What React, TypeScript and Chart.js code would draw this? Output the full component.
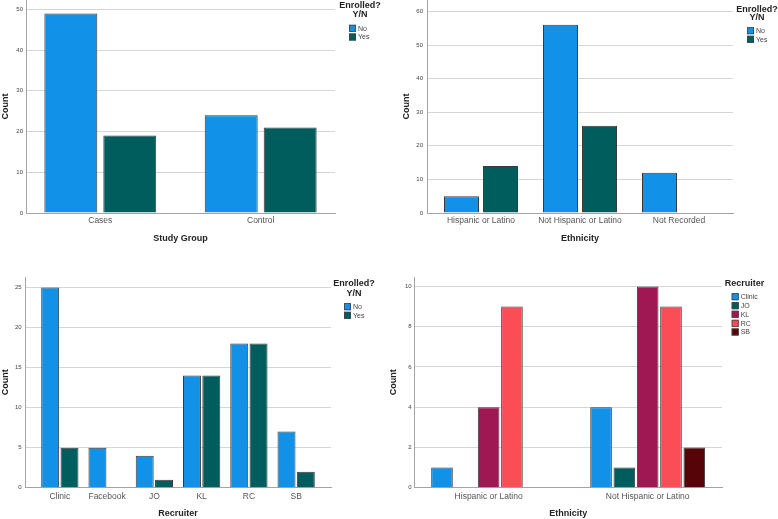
import React, { useEffect, useRef } from "react";
import { Chart, registerables } from "chart.js";

Chart.register(...registerables);

// ---------- data ----------
const studyGroups = ["Cases", "Control"];
const studyNo = [49, 24];
const studyYes = [19, 21];
const studyTicks = [0, 10, 20, 30, 40, 50];

const ethnicityGroups = ["Hispanic or Latino", "Not Hispanic or Latino", "Not Recorded"];
const ethnicityNo = [5, 56, 12];
const ethnicityYes = [14, 26, null];
const ethnicityTicks = [0, 10, 20, 30, 40, 50, 60];

const recruiters = ["Clinic", "Facebook", "JO", "KL", "RC", "SB"];
const recruiterNo = [25, 5, 4, 14, 18, 7];
const recruiterYes = [5, null, 1, 14, 18, 2];
const recruiterTicks = [0, 5, 10, 15, 20, 25];

const ethnicity2Groups = ["Hispanic or Latino", "Not Hispanic or Latino"];
const recClinic = [1, 4];
const recJO = [null, 1];
const recKL = [4, 10];
const recRC = [9, 9];
const recSB = [null, 2];
const ethnicity2Ticks = [0, 2, 4, 6, 8, 10];

// ---------- styles ----------
const BLUE = "#1192e8";
const TEAL = "#005d5d";
const MAGENTA = "#9f1853";
const RED = "#fa4d56";
const DARKRED = "#570408";
const FONT = "'Liberation Sans', Arial, sans-serif";

type LegendCfg = {
  title: string[];
  titleCX: number;
  titleY: number[];
  boxX: number;
  itemY: number[];
};

type PanelCfg = {
  x: number;
  y: number;
  w: number;
  h: number;
  labels: string[];
  series: { label: string; data: (number | null)[]; color: string }[];
  ticks: number[];
  max: number;
  xTitle: string;
  yW: number;
  xH: number;
  padTop: number;
  padRight: number;
  yTickPad: number;
  yTitlePad: number;
  xTickPad: number;
  xTitlePadBottom: number;
  catPct: number;
  barPct: number;
  catInset: number;
  legend: LegendCfg;
};

const legendPlugin = {
  id: "customLegend",
  afterDraw(chart: any, _args: any, opts: any) {
    const cfg: LegendCfg = opts.cfg;
    if (!cfg) return;
    const ctx = chart.ctx;
    ctx.save();
    ctx.fillStyle = "#222";
    ctx.font = `bold 9px ${FONT}`;
    ctx.textAlign = "center";
    ctx.textBaseline = "middle";
    cfg.title.forEach((t, i) => ctx.fillText(t, cfg.titleCX, cfg.titleY[i]));
    ctx.font = `7px ${FONT}`;
    ctx.textAlign = "left";
    chart.data.datasets.forEach((ds: any, i: number) => {
      const y = cfg.itemY[i];
      ctx.fillStyle = ds.backgroundColor;
      ctx.fillRect(cfg.boxX, y - 3.5, 7, 7);
      ctx.strokeStyle = "#444";
      ctx.lineWidth = 0.8;
      ctx.strokeRect(cfg.boxX + 0.4, y - 3.1, 6.2, 6.2);
      ctx.fillStyle = "#444";
      ctx.fillText(ds.label, cfg.boxX + 9, y + 0.5);
    });
    ctx.restore();
  },
};

// shifts the category positions inside the plot, as the original tool does
const insetPlugin = {
  id: "catInset",
  afterLayout(chart: any, _args: any, opts: any) {
    const s = chart.scales.x;
    const a = opts.inset || 0;
    if (!s) return;
    s._startPixel = s.left + a;
    s._endPixel = s.right - a;
    s._length = s._endPixel - s._startPixel;
  },
};

const panels: PanelCfg[] = [
  {
    x: 0, y: 0, w: 390, h: 250,
    labels: studyGroups,
    series: [
      { label: "No", data: studyNo, color: BLUE },
      { label: "Yes", data: studyYes, color: TEAL },
    ],
    ticks: studyTicks, max: 52.3, xTitle: "Study Group",
    yW: 26, xH: 37, padTop: 0, padRight: 55,
    yTickPad: 3, yTitlePad: 0, xTickPad: 3, xTitlePadBottom: 5.6,
    catPct: 0.735, barPct: 0.898, catInset: -5.9,
    legend: { title: ["Enrolled?", "Y/N"], titleCX: 360, titleY: [6, 15], boxX: 349, itemY: [28.3, 37] },
  },
  {
    x: 390, y: 0, w: 388, h: 250,
    labels: ethnicityGroups,
    series: [
      { label: "No", data: ethnicityNo, color: BLUE },
      { label: "Yes", data: ethnicityYes, color: TEAL },
    ],
    ticks: ethnicityTicks, max: 63.4, xTitle: "Ethnicity",
    yW: 37, xH: 37, padTop: 0, padRight: 45,
    yTickPad: 4, yTitlePad: 11, xTickPad: 3, xTitlePadBottom: 5.6,
    catPct: 0.788, barPct: 0.897, catInset: 4.5,
    legend: { title: ["Enrolled?", "Y/N"], titleCX: 367, titleY: [9.3, 17.3], boxX: 357, itemY: [30.7, 39.3] },
  },
  {
    x: 0, y: 250, w: 390, h: 269,
    labels: recruiters,
    series: [
      { label: "No", data: recruiterNo, color: BLUE },
      { label: "Yes", data: recruiterYes, color: TEAL },
    ],
    ticks: recruiterTicks, max: 26.3, xTitle: "Recruiter",
    yW: 25, xH: 31.3, padTop: 27, padRight: 59,
    yTickPad: 3.3, yTitlePad: 0, xTickPad: 4, xTitlePadBottom: 0.3,
    catPct: 0.817, barPct: 0.93, catInset: 11.2,
    legend: { title: ["Enrolled?", "Y/N"], titleCX: 354, titleY: [34, 43.3], boxX: 344, itemY: [56.7, 65.3] },
  },
  {
    x: 388, y: 250, w: 390, h: 269,
    labels: ethnicity2Groups,
    series: [
      { label: "Clinic", data: recClinic, color: BLUE },
      { label: "JO", data: recJO, color: TEAL },
      { label: "KL", data: recKL, color: MAGENTA },
      { label: "RC", data: recRC, color: RED },
      { label: "SB", data: recSB, color: DARKRED },
    ],
    ticks: ethnicity2Ticks, max: 10.47, xTitle: "Ethnicity",
    yW: 26.3, xH: 31.3, padTop: 27, padRight: 56,
    yTickPad: 2.6, yTitlePad: 0, xTickPad: 4, xTitlePadBottom: 0.3,
    catPct: 0.733, barPct: 0.927, catInset: -5.2,
    legend: { title: ["Recruiter"], titleCX: 356.5, titleY: [34], boxX: 343.7, itemY: [46.7, 55.7, 64.3, 73.3, 82] },
  },
];

function Panel({ cfg }: { cfg: PanelCfg }) {
  const ref = useRef<HTMLCanvasElement | null>(null);
  useEffect(() => {
    if (!ref.current) return;
    const chart = new Chart(ref.current, {
      type: "bar",
      data: {
        labels: cfg.labels,
        datasets: cfg.series.map((s) => ({
          label: s.label,
          data: s.data,
          backgroundColor: s.color,
          borderColor: "#3a3a3a",
          borderWidth: 1,
          categoryPercentage: cfg.catPct,
          barPercentage: cfg.barPct,
        })),
      },
      options: {
        animation: false,
        responsive: false,
        maintainAspectRatio: false,
        layout: { padding: { top: cfg.padTop, right: cfg.padRight, left: 0, bottom: 0 } },
        plugins: {
          legend: { display: false },
          tooltip: { enabled: false },
          customLegend: { cfg: cfg.legend },
          catInset: { inset: cfg.catInset },
        } as any,
        scales: {
          x: {
            type: "category",
            grid: { display: false, drawTicks: false },
            border: { display: true, color: "#a3a3a3", width: 1 },
            ticks: {
              color: "#555",
              font: { family: FONT, size: 8.5 },
              padding: cfg.xTickPad,
              maxRotation: 0,
              autoSkip: false,
            },
            title: {
              display: true,
              text: cfg.xTitle,
              color: "#222",
              font: { family: FONT, size: 9, weight: "bold" },
              padding: { top: 0, bottom: cfg.xTitlePadBottom },
            },
            afterFit: (s: any) => {
              s.height = cfg.xH;
              s.paddingLeft = 0;
              s.paddingRight = 0;
            },
          },
          y: {
            type: "linear",
            min: 0,
            max: cfg.max,
            grid: { color: "#d6d6d6", lineWidth: 1, drawTicks: false },
            border: { display: true, color: "#a3a3a3", width: 1 },
            ticks: {
              color: "#444",
              font: { family: FONT, size: 6 },
              padding: cfg.yTickPad,
            },
            title: {
              display: true,
              text: "Count",
              color: "#222",
              font: { family: FONT, size: 9, weight: "bold" },
              padding: { top: cfg.yTitlePad, bottom: 0 },
            },
            afterBuildTicks: (s: any) => {
              s.ticks = cfg.ticks.map((v) => ({ value: v }));
            },
            afterFit: (s: any) => {
              s.width = cfg.yW;
              s.paddingTop = 0;
              s.paddingBottom = 0;
            },
          },
        },
      },
      plugins: [insetPlugin, legendPlugin],
    } as any);
    return () => chart.destroy();
  }, [cfg]);
  return (
    <canvas
      ref={ref}
      width={cfg.w}
      height={cfg.h}
      style={{ position: "absolute", left: cfg.x, top: cfg.y, width: cfg.w, height: cfg.h }}
    />
  );
}

export default function App() {
  return (
    <div
      style={{
        position: "fixed",
        left: 0,
        top: 0,
        width: 778,
        height: 519,
        background: "#fff",
        overflow: "hidden",
      }}
    >
      {panels.map((p, i) => (
        <Panel key={i} cfg={p} />
      ))}
    </div>
  );
}
